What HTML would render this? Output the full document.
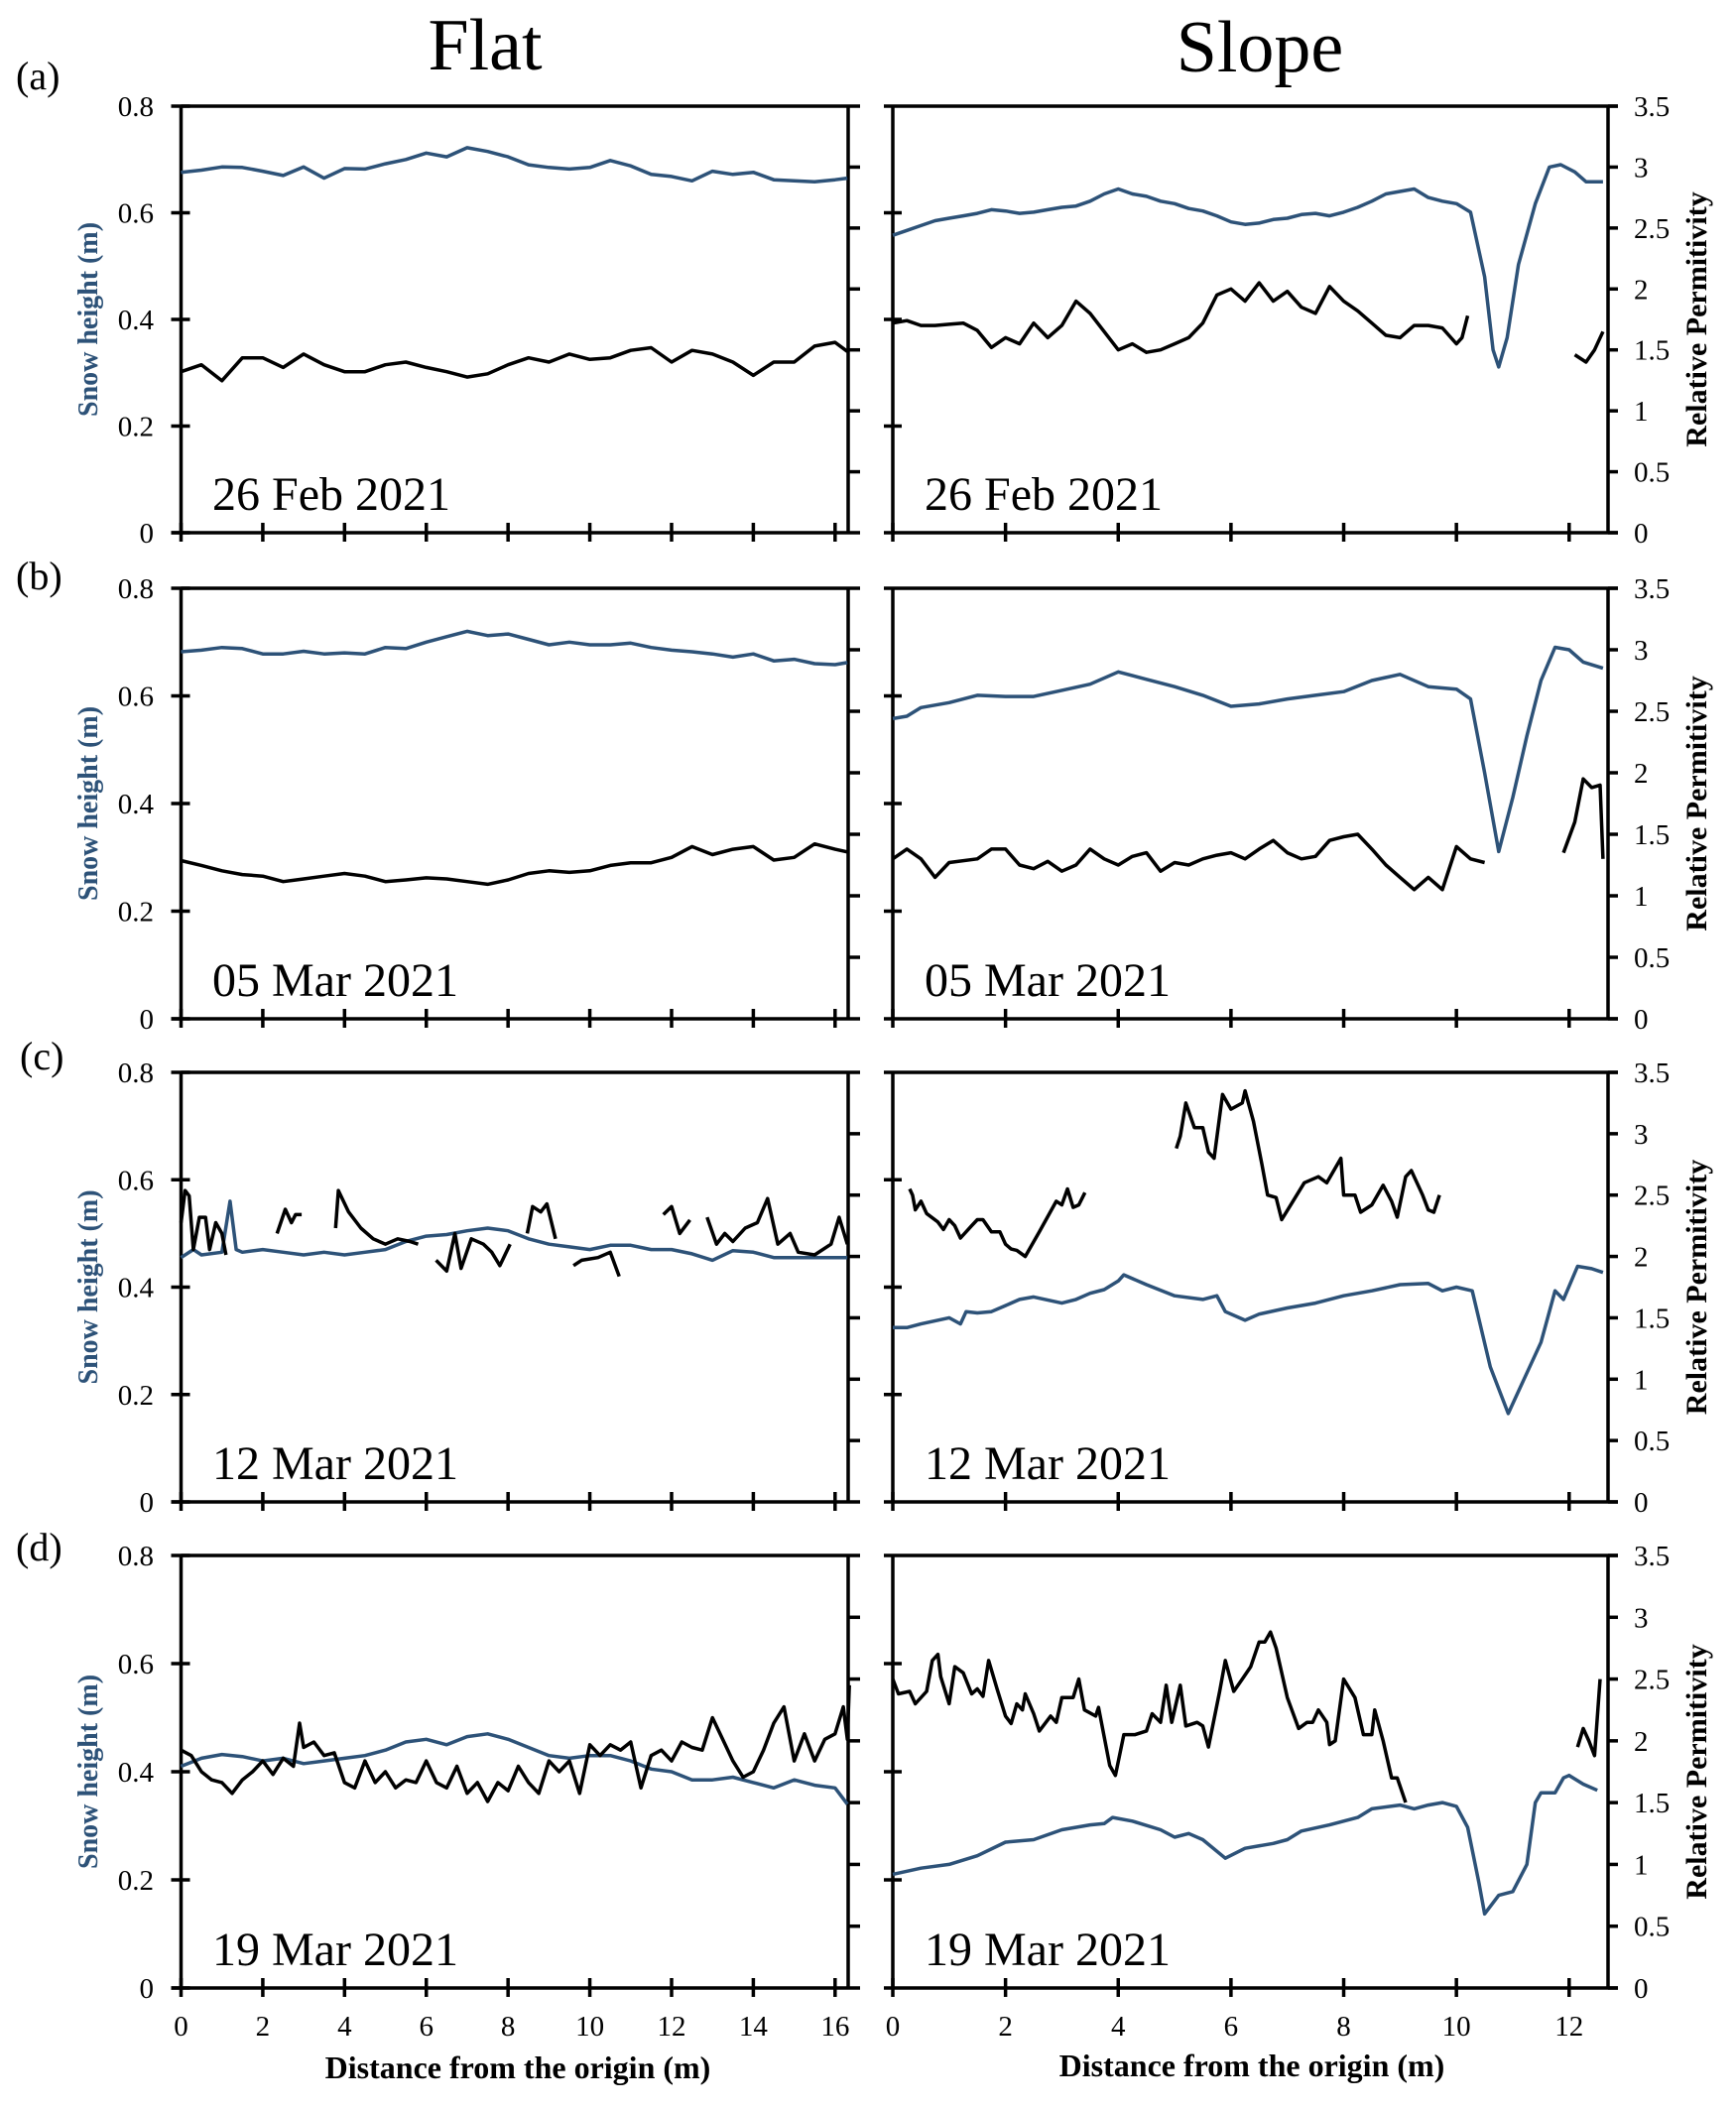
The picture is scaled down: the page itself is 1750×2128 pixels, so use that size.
<!DOCTYPE html>
<html><head><meta charset="utf-8"><style>
html,body{margin:0;padding:0;background:#fff;}
svg{display:block;font-family:"Liberation Serif",serif;}
</style></head><body>
<svg id="fig" width="1750" height="2128" viewBox="0 0 1750 2128" xmlns="http://www.w3.org/2000/svg">
<text x="489" y="70" font-size="74" text-anchor="middle">Flat</text>
<text x="1270" y="72" font-size="74" text-anchor="middle">Slope</text>
<text x="16" y="90" font-size="40">(a)</text>
<text x="16" y="594" font-size="40">(b)</text>
<text x="20" y="1078" font-size="40">(c)</text>
<text x="16" y="1573" font-size="40">(d)</text>
<text x="522" y="2095" font-size="32" font-weight="bold" text-anchor="middle">Distance from the origin (m)</text>
<text x="1262" y="2093" font-size="32" font-weight="bold" text-anchor="middle">Distance from the origin (m)</text>
</svg>
<script>
// ---- data: flat panels (snow height in m; black permittivity trace shown on same m scale) ----
const flatX = [0,0.5,1,1.5,2,2.5,3,3.5,4,4.5,5,5.5,6,6.5,7,7.5,8,8.5,9,9.5,10,10.5,11,11.5,12,12.5,13,13.5,14,14.5,15,15.5,16,16.3];
const flatA_blue = [.676,.68,.686,.685,.678,.67,.686,.665,.683,.682,.692,.70,.712,.705,.722,.715,.705,.69,.685,.682,.685,.698,.688,.672,.668,.66,.678,.672,.676,.662,.66,.658,.662,.665];
const flatA_black = [.302,.315,.285,.328,.328,.31,.335,.315,.302,.302,.315,.32,.31,.302,.292,.298,.315,.328,.32,.335,.325,.328,.342,.347,.32,.342,.335,.32,.295,.32,.32,.35,.357,.34];
const flatB_blue = [.682,.685,.69,.688,.678,.678,.683,.678,.68,.678,.69,.688,.70,.71,.72,.712,.715,.705,.695,.70,.695,.695,.698,.69,.685,.682,.678,.672,.678,.665,.668,.66,.658,.662];
const flatB_black = [.294,.285,.275,.268,.265,.255,.26,.265,.27,.265,.255,.258,.262,.26,.255,.25,.258,.27,.275,.272,.275,.285,.29,.29,.30,.32,.305,.315,.32,.295,.30,.325,.315,.31];
const flatC_blueX = [0,.3,.5,1,1.2,1.35,1.5,2,2.5,3,3.5,4,4.5,5,5.5,6,6.5,7,7.5,8,8.5,9,9.5,10,10.5,11,11.5,12,12.5,13,13.5,14,14.5,15,15.5,16,16.3];
const flatC_blue = [.455,.47,.46,.465,.56,.47,.465,.47,.465,.46,.465,.46,.465,.47,.485,.495,.498,.505,.51,.505,.49,.48,.475,.47,.478,.478,.47,.47,.462,.45,.468,.465,.455,.455,.455,.455,.455];
const flatC_blackX = [0,.1,.2,.3,.45,.6,.7,.85,1.0,1.1,null,2.35,2.55,2.7,2.8,2.95,null,3.78,3.85,4.1,4.4,4.7,5.0,5.3,5.6,5.8,null,6.24,6.5,6.7,6.85,7.1,7.4,7.6,7.8,8.05,null,8.47,8.6,8.8,8.95,9.16,null,9.6,9.8,10.2,10.5,10.72,null,11.8,12.0,12.2,12.45,null,12.87,13.1,13.3,13.5,13.8,14.1,14.35,14.6,14.9,15.1,15.5,15.9,16.1,16.3];
const flatC_black = [.52,.58,.57,.47,.53,.53,.47,.52,.50,.46,null,.50,.545,.52,.535,.535,null,.51,.58,.54,.51,.49,.48,.49,.485,.48,null,.45,.43,.50,.435,.49,.48,.465,.44,.48,null,.50,.55,.54,.555,.49,null,.44,.45,.455,.465,.42,null,.535,.55,.50,.525,null,.53,.48,.50,.485,.51,.52,.565,.48,.50,.465,.46,.48,.53,.48];
const flatD_blue = [.41,.425,.432,.428,.42,.425,.415,.42,.425,.43,.44,.455,.46,.45,.465,.47,.46,.445,.43,.425,.43,.43,.42,.405,.40,.385,.385,.39,.38,.37,.385,.375,.37,.34];
const flatD_blackX = [0,.25,.5,.75,1,1.25,1.5,1.75,2,2.25,2.5,2.75,2.9,3,3.25,3.5,3.75,4,4.25,4.5,4.75,5,5.25,5.5,5.75,6,6.25,6.5,6.75,7,7.25,7.5,7.75,8,8.25,8.5,8.75,9,9.25,9.5,9.75,10,10.25,10.5,10.75,11,11.25,11.5,11.75,12,12.25,12.5,12.75,13,13.25,13.5,13.75,14,14.25,14.5,14.75,15,15.25,15.5,15.75,16,16.2,16.3,16.35];
const flatD_black = [.44,.43,.40,.385,.38,.36,.385,.40,.42,.395,.425,.41,.49,.445,.455,.43,.435,.38,.37,.42,.38,.40,.37,.385,.38,.42,.38,.37,.41,.36,.38,.345,.38,.365,.41,.38,.36,.42,.40,.42,.36,.45,.43,.45,.44,.455,.37,.43,.44,.42,.455,.445,.44,.50,.46,.42,.39,.40,.44,.49,.52,.42,.47,.42,.46,.47,.52,.46,.56];

// ---- data: slope panels (relative permittivity scale, 0-3.5) ----
const slopeA_blueX = [0,.25,.5,.75,1,1.25,1.5,1.75,2,2.25,2.5,2.75,3,3.25,3.5,3.75,4,4.25,4.5,4.75,5,5.25,5.5,5.75,6,6.25,6.5,6.75,7,7.25,7.5,7.75,8,8.25,8.5,8.75,9,9.25,9.5,9.75,10,10.25,10.5,10.65,10.75,10.9,11.1,11.4,11.65,11.85,12.1,12.3,12.6];
const slopeA_blue = [2.44,2.48,2.52,2.56,2.58,2.6,2.62,2.65,2.64,2.62,2.63,2.65,2.67,2.68,2.72,2.78,2.82,2.78,2.76,2.72,2.7,2.66,2.64,2.6,2.55,2.53,2.54,2.57,2.58,2.61,2.62,2.6,2.63,2.67,2.72,2.78,2.8,2.82,2.75,2.72,2.7,2.63,2.1,1.5,1.36,1.6,2.2,2.7,3.0,3.02,2.96,2.88,2.88];
const slopeA_blackX = [0,.25,.5,.75,1,1.25,1.5,1.75,2,2.25,2.5,2.75,3,3.25,3.5,3.75,4,4.25,4.5,4.75,5,5.25,5.5,5.75,6,6.25,6.5,6.75,7,7.25,7.5,7.75,8,8.25,8.5,8.75,9,9.25,9.5,9.75,10,10.1,10.2,null,12.1,12.3,12.45,12.6];
const slopeA_black = [1.72,1.74,1.7,1.7,1.71,1.72,1.66,1.52,1.6,1.55,1.72,1.6,1.7,1.9,1.8,1.65,1.5,1.55,1.48,1.5,1.55,1.6,1.72,1.95,2.0,1.9,2.05,1.9,1.98,1.85,1.8,2.02,1.9,1.82,1.72,1.62,1.6,1.7,1.7,1.68,1.55,1.6,1.78,null,1.46,1.4,1.5,1.65];
const slopeB_blueX = [0,.25,.5,1,1.5,2,2.5,3,3.5,4,4.5,5,5.5,6,6.5,7,7.5,8,8.5,9,9.5,10,10.25,10.5,10.75,11,11.25,11.5,11.75,12,12.25,12.6];
const slopeB_blue = [2.44,2.46,2.53,2.57,2.63,2.62,2.62,2.67,2.72,2.82,2.76,2.7,2.63,2.54,2.56,2.6,2.63,2.66,2.75,2.8,2.7,2.68,2.6,2.0,1.36,1.8,2.3,2.75,3.02,3.0,2.9,2.85];
const slopeB_blackX = [0,.25,.5,.75,1,1.5,1.75,2,2.25,2.5,2.75,3,3.25,3.5,3.75,4,4.25,4.5,4.75,5,5.25,5.5,5.75,6,6.25,6.5,6.75,7,7.25,7.5,7.75,8,8.25,8.5,8.75,9,9.25,9.5,9.75,10,10.25,10.5,null,11.9,12.1,12.25,12.4,12.55,12.6];
const slopeB_black = [1.3,1.38,1.3,1.15,1.27,1.3,1.38,1.38,1.25,1.22,1.28,1.2,1.25,1.38,1.3,1.25,1.32,1.35,1.2,1.27,1.25,1.3,1.33,1.35,1.3,1.38,1.45,1.35,1.3,1.32,1.45,1.48,1.5,1.38,1.25,1.15,1.05,1.15,1.05,1.4,1.3,1.27,null,1.35,1.6,1.95,1.88,1.9,1.3];
const slopeC_blueX = [0,.25,.5,1,1.2,1.3,1.5,1.75,2,2.25,2.5,3,3.25,3.5,3.75,4,4.1,4.5,5,5.5,5.75,5.9,6.25,6.5,7,7.5,8,8.5,9,9.5,9.75,10,10.28,10.6,10.92,11.2,11.5,11.75,11.9,12.15,12.4,12.6];
const slopeC_blue = [1.42,1.42,1.45,1.5,1.45,1.55,1.54,1.55,1.6,1.65,1.67,1.62,1.65,1.7,1.73,1.8,1.85,1.77,1.68,1.65,1.68,1.55,1.48,1.53,1.58,1.62,1.68,1.72,1.77,1.78,1.72,1.75,1.72,1.1,0.72,1.0,1.3,1.72,1.65,1.92,1.9,1.87];
const slopeC_blackX = [.3,.35,.4,.5,.6,.8,.9,1.0,1.1,1.2,1.4,1.5,1.6,1.75,1.9,2.0,2.1,2.2,2.35,2.6,2.9,3.0,3.1,3.2,3.3,3.41,null,5.03,5.1,5.2,5.35,5.5,5.6,5.7,5.85,6.0,6.2,6.25,6.4,6.55,6.65,6.8,6.9,7.1,7.3,7.55,7.7,7.85,7.95,8.0,8.2,8.3,8.5,8.7,8.85,8.95,9.1,9.2,9.4,9.5,9.6,9.7];
const slopeC_black = [2.55,2.5,2.38,2.45,2.35,2.28,2.22,2.3,2.25,2.15,2.25,2.3,2.3,2.2,2.2,2.1,2.06,2.05,2.0,2.2,2.45,2.42,2.55,2.4,2.42,2.52,null,2.88,2.98,3.25,3.05,3.05,2.85,2.8,3.32,3.2,3.25,3.35,3.1,2.75,2.5,2.48,2.3,2.45,2.6,2.65,2.6,2.72,2.8,2.5,2.5,2.36,2.42,2.58,2.45,2.32,2.65,2.7,2.5,2.38,2.36,2.5];
const slopeD_blueX = [0,.5,1,1.5,2,2.5,3,3.5,3.75,3.9,4.25,4.75,5,5.25,5.5,5.9,6.25,6.75,7,7.25,7.75,8,8.25,8.5,9,9.25,9.5,9.75,10,10.2,10.4,10.5,10.75,11,11.25,11.4,11.5,11.75,11.9,12,12.25,12.5];
const slopeD_blue = [0.92,0.97,1.0,1.07,1.18,1.2,1.28,1.32,1.33,1.38,1.35,1.28,1.22,1.25,1.2,1.05,1.13,1.17,1.2,1.27,1.32,1.35,1.38,1.45,1.48,1.45,1.48,1.5,1.47,1.3,0.85,0.6,0.75,0.78,1.0,1.5,1.58,1.58,1.7,1.72,1.65,1.6];
const slopeD_blackX = [0,.1,.3,.4,.6,.7,.8,.85,1,1.1,1.25,1.4,1.5,1.6,1.7,1.85,2,2.1,2.2,2.3,2.35,2.5,2.6,2.8,2.9,3.0,3.2,3.3,3.4,3.6,3.65,3.85,3.95,4.1,4.3,4.5,4.6,4.75,4.85,4.95,5.1,5.2,5.4,5.5,5.6,5.8,5.9,6.05,6.2,6.35,6.5,6.6,6.7,6.8,7.0,7.2,7.35,7.45,7.55,7.7,7.75,7.85,8.0,8.2,8.35,8.5,8.55,8.7,8.85,8.95,9.1,null,12.15,12.25,12.35,12.45,12.55];
const slopeD_black = [2.5,2.38,2.4,2.3,2.4,2.65,2.7,2.52,2.3,2.6,2.55,2.38,2.42,2.36,2.65,2.42,2.2,2.14,2.3,2.25,2.38,2.22,2.08,2.2,2.15,2.35,2.35,2.5,2.25,2.2,2.27,1.8,1.72,2.05,2.05,2.08,2.22,2.15,2.45,2.15,2.45,2.12,2.15,2.12,1.95,2.4,2.65,2.4,2.5,2.6,2.8,2.8,2.88,2.75,2.35,2.1,2.15,2.15,2.25,2.15,1.97,2.0,2.5,2.35,2.05,2.05,2.25,2.0,1.7,1.7,1.5,null,1.95,2.1,2.0,1.88,2.5];

// ---- tick labels ----
const snowTicks = [0,0.2,0.4,0.6,0.8];
const snowTickLabels = ["0","0.2","0.4","0.6","0.8"];
const permTicks = [0,0.5,1,1.5,2,2.5,3,3.5];
const permTickLabels = ["0","0.5","1","1.5","2","2.5","3","3.5"];
const flatXTicks = [0,2,4,6,8,10,12,14,16];
const slopeXTicks = [0,2,4,6,8,10,12];
const dates = ["26 Feb 2021","05 Mar 2021","12 Mar 2021","19 Mar 2021"];

// ---- layout ----
const NS = "http://www.w3.org/2000/svg";
const svg = document.getElementById("fig");
const BLUE = "#2d5278";
const rows = [[107,537],[593,1027],[1081,1514],[1568,2004]];
const FLAT = {x0:182.5, x1:855, xmax:16.32};
const SLOPE = {x0:900, x1:1621, xmax:12.69};

function mk(tag, attrs, parent){
  const e = document.createElementNS(NS, tag);
  for (const k in attrs) e.setAttribute(k, attrs[k]);
  (parent||svg).appendChild(e);
  return e;
}
function seg(g, x1,y1,x2,y2,w){
  return mk("line",{x1:x1,y1:y1,x2:x2,y2:y2,stroke:"#000","stroke-width":w||3.5},g);
}
function series(g, xs, ys, sx, sy, color, name){
  let d = "", pen = false;
  for (let i=0;i<xs.length;i++){
    if (xs[i]===null || ys[i]===null){ pen=false; continue; }
    d += (pen?"L":"M") + sx(xs[i]).toFixed(1) + "," + sy(ys[i]).toFixed(1);
    pen = true;
  }
  const p = mk("path",{d:d,fill:"none",stroke:color,"stroke-width":3.5,"stroke-linejoin":"round"},g);
  
  
}

const flatData = [
  [flatX, flatA_blue, flatX, flatA_black],
  [flatX, flatB_blue, flatX, flatB_black],
  [flatC_blueX, flatC_blue, flatC_blackX, flatC_black],
  [flatX, flatD_blue, flatD_blackX, flatD_black]
];
const slopeData = [
  [slopeA_blueX, slopeA_blue, slopeA_blackX, slopeA_black],
  [slopeB_blueX, slopeB_blue, slopeB_blackX, slopeB_black],
  [slopeC_blueX, slopeC_blue, slopeC_blackX, slopeC_black],
  [slopeD_blueX, slopeD_blue, slopeD_blackX, slopeD_black]
];
const letters = ["a","b","c","d"];

rows.forEach((r, ri) => {
  const top = r[0], bot = r[1], H = bot - top;
  const syM = v => bot - v/0.8*H;
  const syP = v => bot - v/3.5*H;

  const gf = mk("g",{});
  
  
  const sxF = v => FLAT.x0 + v/FLAT.xmax*(FLAT.x1-FLAT.x0);
  seg(gf, FLAT.x0, top, FLAT.x1+12, top);
  seg(gf, FLAT.x0-10, bot, FLAT.x1+12, bot);
  seg(gf, FLAT.x0, top, FLAT.x0, bot);
  seg(gf, FLAT.x1, top, FLAT.x1, bot);
  snowTicks.forEach((t,i) => {
    seg(gf, FLAT.x0-10, syM(t), FLAT.x0+9, syM(t));
    const tl = mk("text",{x:155,y:syM(t)+10,"font-size":29,"text-anchor":"end"},gf);
    tl.textContent = snowTickLabels[i];
    
    
  });
  permTicks.forEach(t => { if (t>0 && t<3.5) seg(gf, FLAT.x1, syP(t), FLAT.x1+12, syP(t)); });
  flatXTicks.forEach(t => {
    seg(gf, sxF(t), bot-10, sxF(t), bot+9);
    if (ri===3){
      const xl = mk("text",{x:sxF(t),y:bot+48,"font-size":29,"text-anchor":"middle"},gf);
      xl.textContent = String(t);
      
      
    }
  });
  const yt = mk("text",{transform:"translate(98,"+(top+H/2)+") rotate(-90)","font-size":28,"font-weight":"bold",fill:BLUE,"text-anchor":"middle"},gf);
  yt.textContent = "Snow height (m)";
  
  
  const dt = mk("text",{x:214,y:bot-23,"font-size":48},gf);
  dt.textContent = dates[ri];
  
  
  const fd = flatData[ri];
  series(gf, fd[0], fd[1], sxF, syM, BLUE, "flat-snow-height-line");
  series(gf, fd[2], fd[3], sxF, syM, "#000", "flat-permittivity-line");

  const gs = mk("g",{});
  
  
  const sxS = v => SLOPE.x0 + v/SLOPE.xmax*(SLOPE.x1-SLOPE.x0);
  seg(gs, SLOPE.x0-9, top, SLOPE.x1+10, top);
  seg(gs, SLOPE.x0-9, bot, SLOPE.x1+10, bot);
  seg(gs, SLOPE.x0, top, SLOPE.x0, bot);
  seg(gs, SLOPE.x1, top, SLOPE.x1, bot);
  snowTicks.forEach(t => { if (t>0 && t<0.8) seg(gs, SLOPE.x0-9, syM(t), SLOPE.x0+9, syM(t)); });
  permTicks.forEach((t,i) => {
    seg(gs, SLOPE.x1, syP(t), SLOPE.x1+10, syP(t));
    const pl = mk("text",{x:1647,y:syP(t)+10,"font-size":29},gs);
    pl.textContent = permTickLabels[i];
    
    
  });
  slopeXTicks.forEach(t => {
    seg(gs, sxS(t), bot-10, sxS(t), bot+9);
    if (ri===3){
      const xl = mk("text",{x:sxS(t),y:bot+48,"font-size":29,"text-anchor":"middle"},gs);
      xl.textContent = String(t);
      
      
    }
  });
  const rt = mk("text",{transform:"translate(1720,"+(top+H/2)+") rotate(-90)","font-size":30,"font-weight":"bold","text-anchor":"middle"},gs);
  rt.textContent = "Relative Permitivity";
  
  
  const ds = mk("text",{x:932,y:bot-23,"font-size":48},gs);
  ds.textContent = dates[ri];
  
  
  const sd = slopeData[ri];
  series(gs, sd[0], sd[1], sxS, syP, BLUE, "slope-snow-height-line");
  series(gs, sd[2], sd[3], sxS, syP, "#000", "slope-permittivity-line");
});
</script>
</body></html>
